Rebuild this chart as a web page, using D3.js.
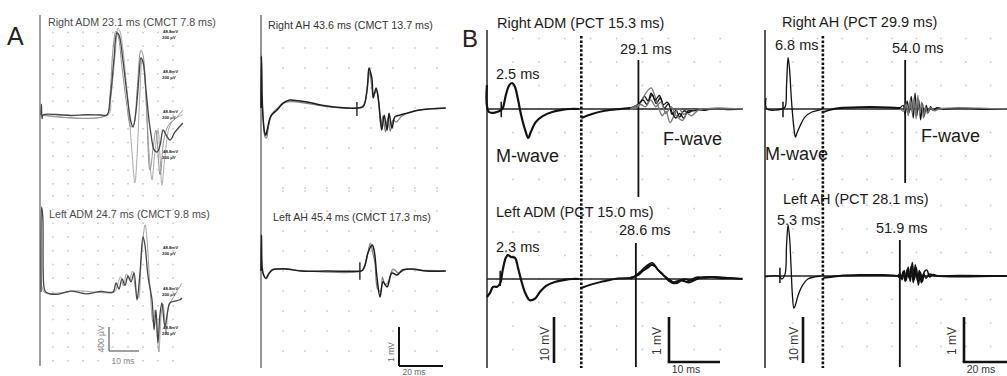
<!DOCTYPE html>
<html>
<head>
<meta charset="utf-8">
<script src="https://cdn.jsdelivr.net/npm/d3@7"></script>
<style>
  body { margin: 0; background: #fff; }
  svg { display: block; font-family: "Liberation Sans", Arial, Helvetica, sans-serif; }
</style>
</head>
<body>
<svg id="fig" width="1007" height="376"></svg>
<script>
// ---------- data (time in ms, amplitude in µV for A-left, mV elsewhere) ----------
const titlesA = ["Right ADM 23.1 ms (CMCT 7.8 ms)", "Left ADM 24.7 ms (CMCT 9.8 ms)",
                 "Right AH 43.6 ms (CMCT 13.7 ms)", "Left AH 45.4 ms (CMCT 17.3 ms)"];
const titlesB = ["Right ADM (PCT 15.3 ms)", "Left ADM (PCT 15.0 ms)",
                 "Right AH (PCT 29.9 ms)", "Left AH (PCT 28.1 ms)"];
const mLatency = [2.5, 2.3, 6.8, 5.3];
const fLatency = [29.1, 28.6, 54.0, 51.9];
const mepOnset = [43.6, 45.4];
const mTick = [2.2, 2.0, 5.9, 4.7];
const gainSwitch = [17.9, 21.6];
const gainTags = ["48.8mV", "200 µV"];

// A left, Right ADM MEP (µV), three trials
const rAdmMep = [
  [[0,0],[0.15,180],[0.35,-60],[0.7,0],[5,8],[10,-8],[15,4],[20,0],[22,0],[23,250],[24.3,917],[25.3,1367],[26,1333],[27.3,917],[28.7,333],[30,-117],[30.7,-200],[31.7,83],[32.7,667],[33.3,950],[34,883],[35,417],[36,-83],[36.7,-333],[37.7,-583],[38.7,-617],[39.7,-500],[40.7,-250],[41.7,-333],[43,-417],[44.7,-283],[47.3,-133]],
  [[0,0],[22.3,0],[23.3,300],[24.7,1000],[25.7,1450],[26.3,1400],[27.3,1100],[28.3,600],[29.3,50],[30.3,-600],[31.3,-1130],[32,-700],[33,400],[33.7,920],[34.3,800],[35.3,0],[36.3,-800],[37,-1080],[37.8,-700],[39,-250],[39.7,-700],[40.3,-1170],[41.3,-700],[43,-170],[45,-50],[47.3,0]],
  [[0,0],[21.8,0],[23,350],[24,1100],[25,1400],[25.8,1300],[27,800],[28.5,200],[30,-200],[31,-150],[32,400],[33.3,1080],[34,1000],[35,300],[36.3,-920],[37.5,-500],[38.3,-250],[39.7,-1000],[41,-400],[42.5,-170],[45,-50],[47.3,80]]
];
// A left, Left ADM MEP (µV)
const lAdmMep = [
  [[0,0],[0.2,1420],[0.6,1250],[1,80],[1.6,0],[5,-40],[10,15],[15,-30],[20,10],[24,0],[25,150],[26,50],[27,220],[28,110],[29,270],[30,170],[31,320],[32,-130],[33,320],[34,920],[34.6,800],[35.7,250],[37,-130],[37.7,-630],[38.3,-300],[39,-850],[39.6,-400],[40.3,-180],[41.3,-580],[42.3,-300],[43,-180],[46.3,-130],[47,-100]],
  [[0,0],[0.2,1400],[1,0],[5,-20],[12,20],[20,-10],[24.5,0],[25.5,120],[26.5,250],[27.5,100],[28.5,300],[29.5,200],[30.5,350],[31.5,50],[32.5,-100],[33.5,600],[34.7,1120],[35.3,900],[36.3,100],[37.3,-500],[38,-300],[38.7,-700],[39.3,-1000],[40,-400],[40.7,-200],[41.7,-700],[42.5,-250],[44,-100],[47,150]]
];
// A right, AH MEPs (mV)
const rAhMep = [
  [[0,0],[0.2,1.3],[0.5,0.3],[1,-0.3],[1.6,-0.6],[2.2,-0.68],[3,-0.5],[4.5,-0.2],[7.3,-0.05],[10,0.12],[13,0.2],[17,0.18],[21,0.15],[25,0.1],[30,0.05],[36,0.01],[43.6,0],[46.4,0.03],[48.2,0.45],[49.1,1.0],[50,0.85],[50.5,0.7],[51,0.25],[52.3,0.5],[53.2,0.28],[54.1,-0.18],[54.9,-0.55],[56,-0.18],[57.3,-0.55],[58.2,-0.13],[59.5,-0.5],[60.9,-0.22],[63,-0.18],[66.4,-0.13],[72,-0.05],[78,-0.02],[84,0]],
  [[0,0],[0.2,1.2],[0.5,0.2],[1.2,-0.4],[1.8,-0.72],[2.5,-0.75],[3.3,-0.5],[5,-0.15],[8,0.02],[11,0.14],[14,0.16],[20,0.12],[28,0.05],[36,0],[44,0],[46.8,0.08],[48.5,0.6],[49.4,0.9],[50.2,0.6],[51.2,0.35],[52.6,0.42],[53.6,0.1],[54.5,-0.45],[55.4,-0.2],[56.6,-0.6],[57.7,-0.25],[58.8,-0.58],[60,-0.3],[61.5,-0.35],[64,-0.2],[68,-0.1],[75,-0.03],[84,0]]
];
const lAhMep = [
  [[0,0],[0.2,0.9],[0.5,0.1],[1.2,-0.1],[2.2,-0.18],[3.2,-0.1],[5,0.03],[8,0.05],[12,0.05],[18,0],[30,0],[45.4,0],[46.2,0.02],[47.3,0.15],[48.6,0.45],[50.5,0.65],[51.4,0.52],[52.7,-0.15],[54.1,-0.65],[55.5,-0.27],[57.3,-0.4],[59.5,-0.05],[61.8,-0.1],[64.5,0.03],[69,0.05],[75,0],[84,0]],
  [[0,0],[0.2,0.8],[0.6,0],[1.5,-0.15],[2.5,-0.2],[3.5,-0.08],[6,0.04],[12,0.04],[20,0],[45.6,0],[47,0.1],[48.2,0.35],[49.7,0.7],[50.8,0.45],[51.8,0.2],[53,-0.45],[54.4,-0.5],[55.2,-0.15],[56.4,-0.35],[58,-0.25],[60,0.05],[62.5,-0.05],[66,0.04],[72,0.02],[84,0]]
];

// B: M-waves (10 mV gain), tails + F-waves (1 mV gain)
const rAdmM = [[-0.6,5.2],[-0.2,-0.65],[2.0,-0.4],[2.5,0.2],[3.1,3.0],[3.7,5.0],[4.3,5.65],[4.9,4.8],[5.5,2.0],[6.1,-1.3],[6.9,-4.6],[7.5,-6.3],[8.0,-5.0],[9.0,-2.8],[10.4,-1.5],[12.2,-0.65],[14.1,-0.2],[15.7,0],[17.5,0]];
const rAdmTail = [[17.9,-0.2],[20,-0.11],[22.5,-0.04],[25.5,0],[27.5,0.02]];
const rAdmF = [
  [[27.5,0.02],[28.5,0.05],[29.5,0.15],[30.3,0.28],[31,0.18],[31.8,0.32],[32.6,0.12],[33.4,0.25],[34.2,0.02],[35,0.12],[35.7,-0.12],[36.5,-0.03],[37.2,-0.18],[38,-0.04],[39,-0.08],[40,0],[42,-0.03],[44,0.01],[46,-0.01],[49.5,0]],
  [[27.5,0],[29,0.05],[30,0.25],[31,0.42],[31.6,0.47],[32.3,0.3],[33,0.05],[33.8,-0.15],[34.5,-0.05],[35.3,-0.3],[36.2,-0.12],[37,0.02],[38,-0.12],[39,-0.02],[41,0],[49.5,0]],
  [[27.5,0.02],[29,0.1],[30,0.2],[30.8,0.1],[31.6,0.35],[32.4,0.2],[33.2,0.3],[34,0.1],[34.8,0.15],[35.6,-0.05],[36.4,-0.2],[37.2,-0.1],[38,-0.2],[38.8,-0.05],[40,-0.04],[43,0.01],[49.5,0]],
  [[27.5,0],[29.5,0.1],[30.5,0.05],[31.5,0.2],[32.5,0.05],[33.5,0.15],[34.5,-0.1],[35.5,0.05],[36.5,-0.15],[37.8,-0.25],[38.6,-0.1],[39.5,-0.15],[41,-0.02],[49.5,0]]
];
const lAdmM = [[-0.6,-3.9],[0,-3.0],[0.6,-1.7],[1.4,-1.7],[2,-0.9],[2.5,2.0],[3.1,4.6],[3.5,5.2],[4.1,4.8],[4.9,4.6],[5.5,2.4],[6.1,-0.2],[6.9,-3.0],[7.8,-4.6],[8.8,-4.3],[9.8,-2.8],[11,-1.5],[12.7,-0.65],[14.7,-0.2],[16.1,0],[17.5,0]];
const lAdmTail = [[17.9,-0.2],[19.6,-0.13],[21.6,-0.07],[24.5,0],[27.5,0.02]];
const lAdmF = [
  [[27.5,0.02],[28.5,0.06],[29.4,0.13],[30.4,0.22],[31.4,0.31],[32.3,0.28],[33.3,0.16],[34.7,0.02],[35.9,-0.07],[37.2,-0.03],[38.5,-0.06],[40.5,0.04],[42,0.03],[44,0.05],[46,0.03],[49.5,0]],
  [[27.5,0],[28.8,0.1],[29.8,0.2],[30.8,0.3],[31.8,0.36],[32.8,0.22],[33.8,0.12],[35,-0.04],[36.2,-0.1],[37.6,-0.02],[39,-0.08],[41,0.02],[43,0.05],[45,0.02],[49.5,0.01]],
  [[27.5,0.03],[29,0.08],[30,0.18],[31,0.25],[32,0.33],[33,0.2],[34,0.08],[35.3,-0.02],[36.5,-0.1],[38,0],[39.5,-0.04],[41.5,0.03],[44.5,0.04],[49.5,0]]
];
const rAhM = [[-0.8,2.4],[-0.4,0],[5.5,0],[6.7,0.4],[7.3,5.2],[7.9,11.2],[8.5,8.5],[9.1,3.0],[9.6,-0.65],[10.2,-4.1],[10.8,-6.1],[11.4,-5.2],[12.6,-3.7],[14.6,-1.7],[17.3,-0.65],[20.5,-0.2],[21.4,0]];
const rAhTail = [[21.8,-0.07],[24.4,-0.02],[28.3,0.02],[36.2,0.04],[44.1,0.04],[50,0.03],[52,0.02]];
const rAhF = [
  [[52,0.02],[53.2,0.08],[54,-0.12],[54.8,0.18],[55.6,-0.08],[56.4,0.28],[57.2,-0.2],[57.9,0.35],[58.6,-0.15],[59.3,0.22],[60.1,-0.24],[60.8,0.12],[61.5,-0.16],[62.3,0.08],[63.1,-0.08],[64,0.05],[65,-0.03],[66.5,0.03],[69,0],[75,0.02],[85,0],[94,0]],
  [[52,0],[53.5,-0.05],[54.4,0.12],[55.2,-0.15],[56,0.2],[56.8,-0.1],[57.5,0.25],[58.3,-0.22],[59,0.3],[59.7,-0.1],[60.5,0.15],[61.2,-0.2],[62,0.05],[62.8,-0.1],[63.8,0.03],[65.5,-0.04],[68,0.01],[94,0]]
];
const lAhM = [[-1.2,-0.2],[4.3,0],[5.5,-0.65],[6.7,0.4],[7.3,6.7],[7.9,11.1],[8.5,8.3],[9.1,1.7],[9.6,-4.1],[10.2,-7.0],[10.8,-6.3],[11.8,-4.3],[13.4,-2.2],[15.7,-0.65],[18.5,-0.2],[20.9,0]];
const lAhTail = [[21.8,-0.04],[28,0],[36,0.02],[45,0.02],[51,0]];
const lAhF = [
  [[51,0],[52,0.05],[52.8,-0.08],[53.6,0.12],[54.4,-0.1],[55.2,0.2],[56,-0.12],[56.8,0.3],[57.6,-0.08],[58.4,0.18],[59.2,-0.2],[60,0.08],[60.8,-0.12],[61.6,0.1],[62.6,0.13],[63.6,-0.02],[65,0.03],[67,0],[75,0.01],[94,0]],
  [[51,0],[52.4,-0.05],[53.2,0.1],[54,-0.12],[54.8,0.15],[55.6,-0.05],[56.4,0.22],[57.2,-0.15],[58,0.25],[58.8,-0.1],[59.6,0.12],[60.4,-0.15],[61.2,0.05],[62.2,-0.05],[63.5,0.04],[66,0],[94,0]]
];

// ---------- drawing ----------
const svg = d3.select("#fig");
const curve = d3.curveCatmullRom.alpha(0.5);

function trace(data, x, y, color, w) {
  svg.append("path")
    .attr("d", d3.line().x(d => x(d[0])).y(d => y(d[1])).curve(curve)(data))
    .attr("fill", "none").attr("stroke", color).attr("stroke-width", w)
    .attr("stroke-linejoin", "round");
}
function grid(xs, ys) {
  svg.append("g").selectAll("rect").data(d3.cross(xs, ys)).join("rect")
    .attr("x", d => d[0] - 0.75).attr("y", d => d[1] - 0.75)
    .attr("width", 1.5).attr("height", 1.5).attr("fill", "#c4c4c4");
}
function vline(x, y1, y2, color, w, dash) {
  const l = svg.append("line").attr("x1", x).attr("x2", x).attr("y1", y1).attr("y2", y2)
    .attr("stroke", color).attr("stroke-width", w);
  if (dash) l.attr("stroke-dasharray", dash);
}
function hline(x1, x2, y, color, w) {
  svg.append("line").attr("x1", x1).attr("x2", x2).attr("y1", y).attr("y2", y)
    .attr("stroke", color).attr("stroke-width", w);
}
function label(txt, x, y, size, color, anchor, rotate) {
  const t = svg.append("text").attr("x", x).attr("y", y).attr("font-size", size)
    .attr("fill", color).attr("text-anchor", anchor || "start").text(txt);
  if (rotate) t.attr("transform", `rotate(-90,${x},${y})`);
  return t;
}

// ===== Panel A, left column (ADM) =====
{
  const x = d3.scaleLinear().domain([0, 10]).range([41, 71]);
  const yT = d3.scaleLinear().domain([0, 400]).range([115, 91]);
  const yB = d3.scaleLinear().domain([0, 400]).range([292, 268]);
  const xs = d3.range(9).map(k => 53 + 15 * k);
  grid(xs, d3.range(-6, 6).map(k => 115 + 13.75 * k));
  grid(xs, d3.range(-7, 6).map(k => 292 + 13.75 * k));
  vline(40, 15, 366, "#8a8a8a", 1.6);
  trace(rAdmMep[1], x, yT, "#a8a8a8", 1);
  trace(rAdmMep[2], x, yT, "#909090", 1);
  trace(rAdmMep[0], x, yT, "#444", 1.3);
  trace(lAdmMep[1], x, yB, "#a0a0a0", 1);
  trace(lAdmMep[0], x, yB, "#444", 1.3);
  label(titlesA[0], 48, 26, 10.7, "#4a4a4a");
  label(titlesA[1], 49, 218, 10.7, "#4a4a4a");
  [33, 73, 113, 153, 249, 290, 329].forEach(yy => {
    label(gainTags[0], 163, yy, 4.3, "#222").attr("font-weight", "bold");
    label(gainTags[1], 162, yy + 6, 4.3, "#222").attr("font-weight", "bold");
  });
  // scale bar 400 µV / 10 ms
  const bx = 109, by = 351;
  vline(bx, by - (yB(0) - yB(400)), by, "#777", 1.4);
  hline(bx, bx + x(10) - x(0), by, "#777", 1.4);
  label("400 µV", 104, 339, 8.5, "#888", "middle", true);
  label("10 ms", 123, 364, 8.5, "#888", "middle");
  label("A", 7, 45, 25, "#222").attr("font-weight", 300);
}

// ===== Panel A, right column (AH) =====
{
  const x = d3.scaleLinear().domain([0, 20]).range([261, 305]);
  const yT = d3.scaleLinear().domain([0, 1]).range([108, 68]);
  const yB = d3.scaleLinear().domain([0, 1]).range([271, 231]);
  const xs = d3.range(8).map(k => 283 + 22 * k);
  grid(xs, d3.range(-3, 5).map(k => 108 + 20 * k));
  grid(xs, d3.range(-4, 5).map(k => 271 + 20 * k));
  vline(261, 15, 368, "#7a7a7a", 1.6);
  trace(rAhMep[1], x, yT, "#808080", 1.2);
  trace(rAhMep[0], x, yT, "#1e1e1e", 1.5);
  trace(lAhMep[1], x, yB, "#808080", 1.2);
  trace(lAhMep[0], x, yB, "#1e1e1e", 1.5);
  vline(x(mepOnset[0]), yT(0.15), yT(-0.2), "#222", 1.4);
  vline(x(mepOnset[1]) - 1, yB(0.22), yB(-0.22), "#222", 1.4);
  label(titlesA[2], 268, 29, 10.7, "#333");
  label(titlesA[3], 273, 221, 10.7, "#333");
  const bx = 399, by = 366;
  vline(bx, yB(-1.4), by, "#111", 2);
  hline(bx, bx + x(20) - x(0), by, "#111", 2);
  label("1 mV", 394, 352, 8.5, "#666", "middle", true);
  label("20 ms", 414, 375, 8.5, "#666", "middle");
}

// ===== Panel B =====
function panelB(cfg) {
  const x = d3.scaleLinear().domain([0, 10]).range([cfg.x0, cfg.x0 + cfg.pxPer10]);
  const yMT = d3.scaleLinear().domain([0, 10]).range([cfg.bT, cfg.bT - 46]);
  const yFT = d3.scaleLinear().domain([0, 1]).range([cfg.bT, cfg.bT - 45]);
  const yMB = d3.scaleLinear().domain([0, 10]).range([cfg.bB, cfg.bB - 46]);
  const yFB = d3.scaleLinear().domain([0, 1]).range([cfg.bB, cfg.bB - 45]);
  const xs = d3.range(9).map(k => cfg.gx0 + cfg.gdx * k);
  grid(xs, d3.range(-3, 4).map(k => cfg.bT + 23.5 * k));
  grid(xs, d3.range(-3, 4).map(k => cfg.bB + 23.5 * k));
  vline(cfg.axis, 30, 368, "#333", 1.6);
  hline(cfg.axis, cfg.xEnd, cfg.bT, "#222", 1.3);
  hline(cfg.axis, cfg.xEnd, cfg.bB, "#222", 1.3);
  // gain switch (dotted) and F latency markers
  vline(x(cfg.gain), 36, 368, "#111", 2.6, "2.6 1.8");
  vline(x(fLatency[cfg.i]), 60, cfg.topLineEnd, "#111", 1.8);
  vline(x(fLatency[cfg.i + 1]), cfg.botLineStart, 367, "#111", 1.8);
  // M ticks
  vline(x(mTick[cfg.i]), yMT(1.6), yMT(-1.8), "#111", 1.5);
  vline(x(mTick[cfg.i + 1]), yMB(1.8), yMB(-1.5), "#111", 1.5);
  // traces
  trace(cfg.mT, x, yMT, "#111", cfg.mW);
  trace(cfg.tailT, x, yFT, "#111", 2);
  cfg.fT.forEach((d, k) => trace(d, x, yFT, k % 2 ? "#777" : "#111", 1.3));
  trace(cfg.mB, x, yMB, "#111", cfg.mW);
  trace(cfg.tailB, x, yFB, "#111", 2);
  cfg.fB.forEach(d => trace(d, x, yFB, "#111", 1.6));
  // labels
  const L = cfg.labels;
  label(titlesB[cfg.i], L.tT[0], L.tT[1], 14.5, "#1a1a1a");
  label(titlesB[cfg.i + 1], L.tB[0], L.tB[1], 14.5, "#1a1a1a");
  label(mLatency[cfg.i].toFixed(1) + " ms", L.mT[0], L.mT[1], 14.5, "#1a1a1a");
  label(mLatency[cfg.i + 1].toFixed(1) + " ms", L.mB[0], L.mB[1], 14.5, "#1a1a1a");
  label(fLatency[cfg.i].toFixed(1) + " ms", L.fT[0], L.fT[1], 14.5, "#1a1a1a");
  label(fLatency[cfg.i + 1].toFixed(1) + " ms", L.fB[0], L.fB[1], 14.5, "#1a1a1a");
  label("M-wave", L.mw[0], L.mw[1], 18, "#1a1a1a");
  label("F-wave", L.fw[0], L.fw[1], 18, "#1a1a1a");
  // scale bars
  vline(cfg.bar10, 317, 317 + (yMB(0) - yMB(10)), "#111", 2.6);
  label("10 mV", cfg.bar10 - 5, 344, 12, "#333", "middle", true);
  const by = 362;
  vline(cfg.bar1, by - (yFB(0) - yFB(1)), by, "#111", 2.6);
  hline(cfg.bar1 - 1.3, cfg.bar1 + x(cfg.barMs) - x(0), by, "#111", 2.6);
  label("1 mV", cfg.bar1 - 8, 341, 12, "#333", "middle", true);
  label(cfg.barMs + " ms", cfg.bar1 + 17, 373, 10.5, "#333", "middle");
}

panelB({
  i: 0, x0: 490, pxPer10: 51, axis: 487, xEnd: 742, bT: 109, bB: 279,
  gx0: 513, gdx: 25.9, gain: gainSwitch[0], topLineEnd: 197, botLineStart: 243,
  mT: rAdmM, tailT: rAdmTail, fT: rAdmF, mB: lAdmM, tailB: lAdmTail, fB: lAdmF, mW: 2.2,
  bar10: 554, bar1: 669, barMs: 10,
  labels: { tT: [497, 28], tB: [496, 217], mT: [496, 79], mB: [496, 252],
            fT: [620, 54], fB: [619, 235], mw: [496, 162], fw: [663, 145] }
});
panelB({
  i: 2, x0: 768, pxPer10: 25.4, axis: 765, xEnd: 1007, bT: 109, bB: 276,
  gx0: 793, gdx: 24.7, gain: gainSwitch[1], topLineEnd: 183, botLineStart: 240,
  mT: rAhM, tailT: rAhTail, fT: rAhF, mB: lAhM, tailB: lAhTail, fB: lAhF, mW: 1.3,
  bar10: 803, bar1: 964, barMs: 20,
  labels: { tT: [782, 27], tB: [783, 204], mT: [775, 50], mB: [777, 225],
            fT: [892, 53], fB: [876, 233], mw: [765, 160], fw: [921, 142] }
});
label("B", 462, 47, 24, "#222").attr("font-weight", 300);
</script>
</body>
</html>
